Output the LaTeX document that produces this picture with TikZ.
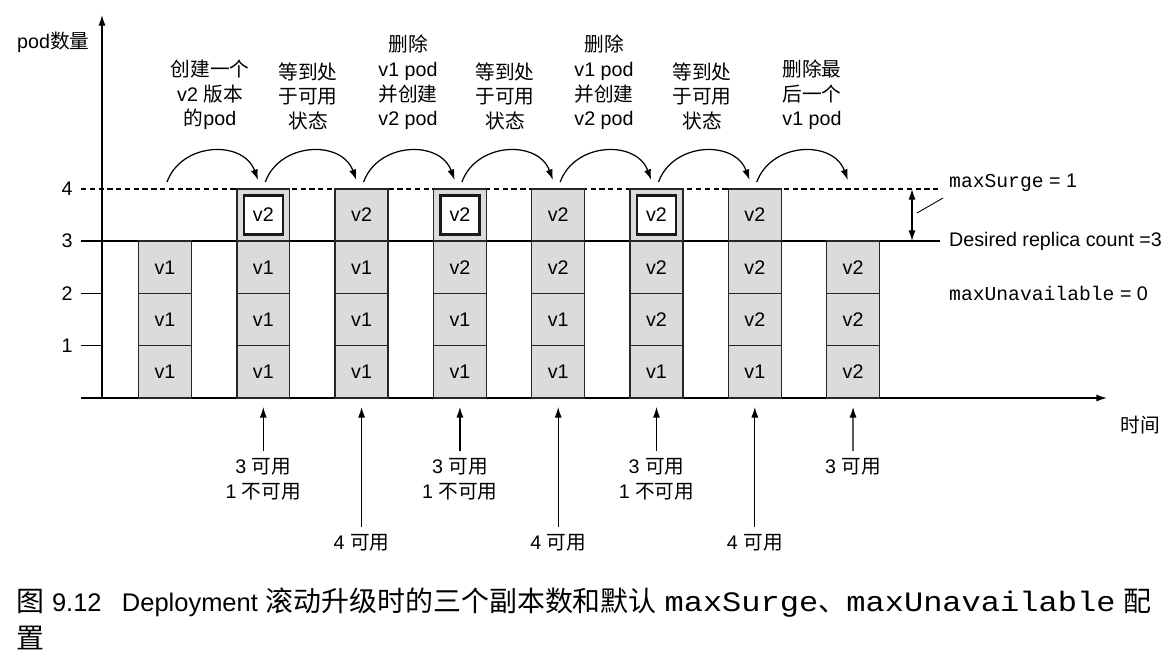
\documentclass[tikz,border=0pt]{standalone}
\usepackage{fontspec}
\setmainfont{Liberation Sans}
\setmonofont{Liberation Mono}
\newfontfamily\cjkfont{Noto Sans CJK SC}
\newfontfamily\captt[FakeStretch = 1.14]{Liberation Mono}
\newcommand{\zh}[1]{{\cjkfont #1}}
\usetikzlibrary{arrows.meta}

\tikzset{
	axis/.style = {line width = 0.8pt, -{Latex[length = 6pt, width = 4pt]}},
	pod/.style = {draw = black!85, line width = 0.8pt, fill = gray!28, minimum width = 1.06cm, minimum height = 1.046cm, inner sep = 0pt},
	newpod/.style = {draw = black!90, line width = 1.3pt, fill = white, minimum width = 0.78cm, minimum height = 0.78cm, inner sep = 0pt},
	stepnote/.style = {align = center, anchor = south, font = \fontsize{11.2pt}{14pt}\selectfont},
	availnote/.style = {align = center, anchor = north, inner sep = 4pt, font = \fontsize{11.2pt}{14.2pt}\selectfont},
	hop/.style = {line width = 0.7pt, -{Latex[length = 6pt, width = 4pt]}, out = 70, in = 110, looseness = 1.2},
	up/.style = {line width = 0.7pt, -{Latex[length = 6pt, width = 4pt]}},
}

\begin{document}
\begin{tikzpicture}[x = 0.02cm, y = -0.02cm, font = \fontsize{11.2pt}{13.4pt}\selectfont]
	\useasboundingbox (0,0) rectangle (1174,652);

	% axes
	\coordinate (o) at (102,398);
	\coordinate (ytop) at (102,15);
	\coordinate (xstart) at (81,398);
	\coordinate (xend) at (1107,398);
	\draw[axis] (o) -- (ytop);
	\draw[axis] (xstart) -- (xend);
	\node[anchor = west] (ylabel) at (11,42) {pod\zh{数量}};
	\node (xlabel) at (1140,425) {\zh{时间}};

	\foreach \l in {1, 2}
		{\draw[line width = 0.7pt] (81,{398-52.3*\l}) -- (102,{398-52.3*\l});}
	\foreach \l in {1, 2, 3, 4}
		{\node (y\l) at (67,{398-52.3*\l}) {\l};}

	% replica levels
	\draw[line width = 0.7pt] (81,241) -- (940,241);
	\draw[line width = 0.7pt, dash pattern = on 3pt off 2pt] (81,189) -- (938,189);

	% v1 pods
	\foreach \c/\n in {1/3, 2/3, 3/3, 4/2, 5/2, 6/1, 7/1}
		{\foreach \l in {1, ..., \n}
			{\node[pod] (p\c-\l) at ({165+98.3*(\c-1)},{398-52.3*(\l-0.5)}) {v1};}}
	% v2 pods
	\foreach \c/\l in {3/4, 4/3, 5/3, 5/4, 6/2, 6/3, 7/2, 7/3, 7/4, 8/1, 8/2, 8/3}
		{\node[pod] (p\c-\l) at ({165+98.3*(\c-1)},{398-52.3*(\l-0.5)}) {v2};}
	% new v2 pods, not yet available
	\foreach \c in {2, 4, 6}
		{\node[pod] (p\c-4) at ({165+98.3*(\c-1)},{398-52.3*3.5}) {};
		\node[newpod] (n\c) at (p\c-4) {v2};}

	% steps
	\foreach \c in {1, ..., 8}
		{\coordinate (s\c) at ({167+98.3*(\c-1)},182);
		\coordinate (e\c) at ({258+98.3*(\c-2)},180);}
	\foreach \c [evaluate = \c as \d using int(\c+1)] in {1, ..., 7}
		{\draw[hop] (s\c) to (e\d);}

	\node[stepnote] (t1) at (210,136) {\zh{创建一个}\\v2 \zh{版本}\\\zh{的}pod};
	\node[stepnote] (t2) at (308,136) {\zh{等到处}\\\zh{于可用}\\\zh{状态}};
	\node[stepnote] (t3) at (408,136) {\zh{删除}\\v1 pod\\\zh{并创建}\\v2 pod};
	\node[stepnote] (t4) at (505,136) {\zh{等到处}\\\zh{于可用}\\\zh{状态}};
	\node[stepnote] (t5) at (604,136) {\zh{删除}\\v1 pod\\\zh{并创建}\\v2 pod};
	\node[stepnote] (t6) at (702,136) {\zh{等到处}\\\zh{于可用}\\\zh{状态}};
	\node[stepnote] (t7) at (812,136) {\zh{删除最}\\\zh{后一个}\\v1 pod};

	% availability
	\foreach \c in {2, ..., 8}
		{\coordinate (b\c) at ({165+98.3*(\c-1)},407);}
	\foreach \c in {2, 4, 6}
		{\node[availnote] (a\c) at ({165+98.3*(\c-1)},451) {3 \zh{可用}\\1 \zh{不可用}};}
	\node[availnote] (a8) at (853,451) {3 \zh{可用}};
	\foreach \c in {3, 5, 7}
		{\node[availnote] (a\c) at ({165+98.3*(\c-1)},527) {4 \zh{可用}};}
	\foreach \c in {2, ..., 8}
		{\draw[up] (a\c.north) -- (b\c);}

	% settings
	\coordinate (m4) at (912,189);
	\coordinate (m3) at (912,241);
	\draw[line width = 0.7pt, {Latex[length = 6pt, width = 4pt]}-{Latex[length = 6pt, width = 4pt]}] (m4) -- (m3);
	\node[anchor = west] (surge) at (943,183) {\texttt{maxSurge} = 1};
	\coordinate (lead) at (917,213);
	\draw[line width = 0.5pt] (lead) -- (surge.south west);
	\node[anchor = west] (desired) at (943,241) {Desired replica count =3};
	\node[anchor = west] (unavail) at (943,293) {\texttt{maxUnavailable} = 0};

	% caption
	\node[anchor = base west, align = left, inner sep = 0pt, font = \fontsize{15.9pt}{21pt}\selectfont] (caption) at (16,648)
		{\zh{图} {\fontsize{14.5pt}{21pt}\selectfont 9.12\hspace{0.8em}Deployment} \zh{滚动升级时的三个副本数和默认} {\captt\fontsize{16pt}{21pt}\selectfont maxSurge}\zh{、}{\captt\fontsize{16pt}{21pt}\selectfont maxUnavailable} \zh{配}\\\zh{置}};

\end{tikzpicture}
\end{document}
